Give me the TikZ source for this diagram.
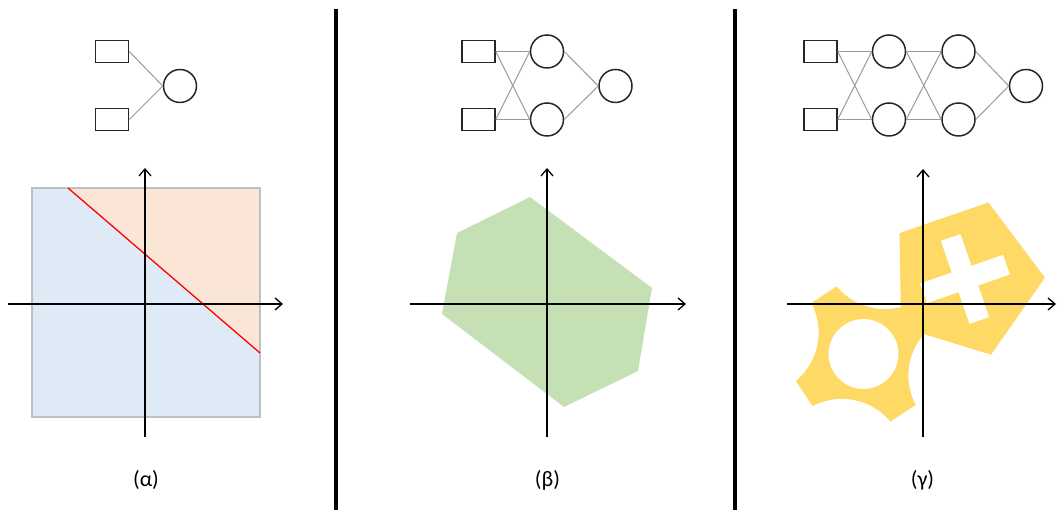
\documentclass[tikz,border=0pt]{standalone}
\usepackage{fontspec}
\setmainfont{Carlito}
\usetikzlibrary{arrows.meta}
\definecolor{lightblue}{HTML}{DEEBF7}
\definecolor{lightorange}{HTML}{FBE5D6}
\definecolor{lightgreen}{HTML}{C5E0B4}
\definecolor{gold}{HTML}{FFD966}
\tikzset{
	inbox/.style={draw=black!85, line width=1.5pt, minimum width=33pt, minimum height=22pt, inner sep=0pt},
	neuron/.style={draw=black!85, line width=1.5pt, circle, minimum size=33pt, inner sep=0pt},
	link/.style={draw=black!40, line width=1pt},
	axis/.style={line width=1.3pt, -{Straight Barb[length=7pt,width=12pt]}},
	caption/.style={font=\fontsize{22}{24}\selectfont}
}
\begin{document}
\begin{tikzpicture}[x=1pt,y=1pt]
	\useasboundingbox (0,0) rectangle (1058,510);
	\draw[line width=3.5pt] (336,501) -- (336,0);
	\draw[line width=3.5pt] (735,501) -- (735,0);
	
	% (a) single neuron
	\node[inbox] (a1) at (112,458.5) {};
	\node[inbox] (a2) at (112,390.5) {};
	\node[neuron] (ao) at (180,424) {};
	\draw[link] (a1.east) -- (ao.west);
	\draw[link] (a2.east) -- (ao.west);
	
	\fill[lightblue] (32,93) rectangle (260,322);
	\fill[lightorange] (68,322) -- (260,322) -- (260,157) -- cycle;
	\draw[black!25, line width=1.2pt] (32,93) rectangle (260,322);
	\draw[red, line width=1.3pt] (68,322) -- (260,157);
	\draw[axis] (8,206) -- (283,206);
	\draw[axis] (145,73) -- (145,342);
	\node[caption] (la) at (146,30) {(α)};
	
	% (b) one hidden layer
	\node[inbox] (b1) at (478.5,458.5) {};
	\node[inbox] (b2) at (478.5,390.5) {};
	\node[neuron] (bh1) at (547,458.5) {};
	\node[neuron] (bh2) at (547,390.5) {};
	\node[neuron] (bo) at (615.5,424) {};
	\foreach \i in {1,2}
		\foreach \j in {1,2}
			\draw[link] (b\i.east) -- (bh\j.west);
	\foreach \j in {1,2}
		\draw[link] (bh\j.east) -- (bo.west);
	
	\fill[lightgreen] (530,313) -- (652,222) -- (638,139) -- (564,103) -- (442,196) -- (457,277) -- cycle;
	\draw[axis] (410,206) -- (686,206);
	\draw[axis] (547,73) -- (547,342);
	\node[caption] (lb) at (547.5,30) {(β)};
	
	% (c) two hidden layers
	\node[inbox] (c1) at (820.5,458.5) {};
	\node[inbox] (c2) at (820.5,390.5) {};
	\node[neuron] (ch1) at (889,458.5) {};
	\node[neuron] (ch2) at (889,390.5) {};
	\node[neuron] (cg1) at (958.5,458.5) {};
	\node[neuron] (cg2) at (958.5,390.5) {};
	\node[neuron] (co) at (1026,424) {};
	\foreach \i in {1,2}
		\foreach \j in {1,2} {
			\draw[link] (c\i.east) -- (ch\j.west);
			\draw[link] (ch\i.east) -- (cg\j.west);
		}
	\foreach \j in {1,2}
		\draw[link] (cg\j.east) -- (co.west);
	
	\begin{scope}[shift={(965,231)}]
		\fill[gold, even odd rule] (1:80) -- (73:80) -- (145:80) -- (217:80) -- (289:80) -- cycle
			[rotate=19] (-10.5,44) -- (10.5,44) -- (10.5,10.5) -- (44,10.5) -- (44,-10.5) -- (10.5,-10.5)
			-- (10.5,-44) -- (-10.5,-44) -- (-10.5,-10.5) -- (-44,-10.5) -- (-44,10.5) -- (-10.5,10.5) -- cycle;
	\end{scope}
	\begin{scope}[shift={(863.5,156)}]
		\fill[gold, even odd rule] (21.9:72.9)
			\foreach \a in {33.8,123.8,213.8,303.8} {
				-- (\a+11.9:72.9) arc[start angle=\a+264.1, end angle=\a+185.9, radius=62.9]
			} -- cycle
			(0,0) circle[radius=35];
	\end{scope}
	\draw[axis] (787,206) -- (1056,206);
	\draw[axis] (923,73) -- (923,341);
	\node[caption] (lc) at (922.5,30) {(γ)};
\end{tikzpicture}
\end{document}
